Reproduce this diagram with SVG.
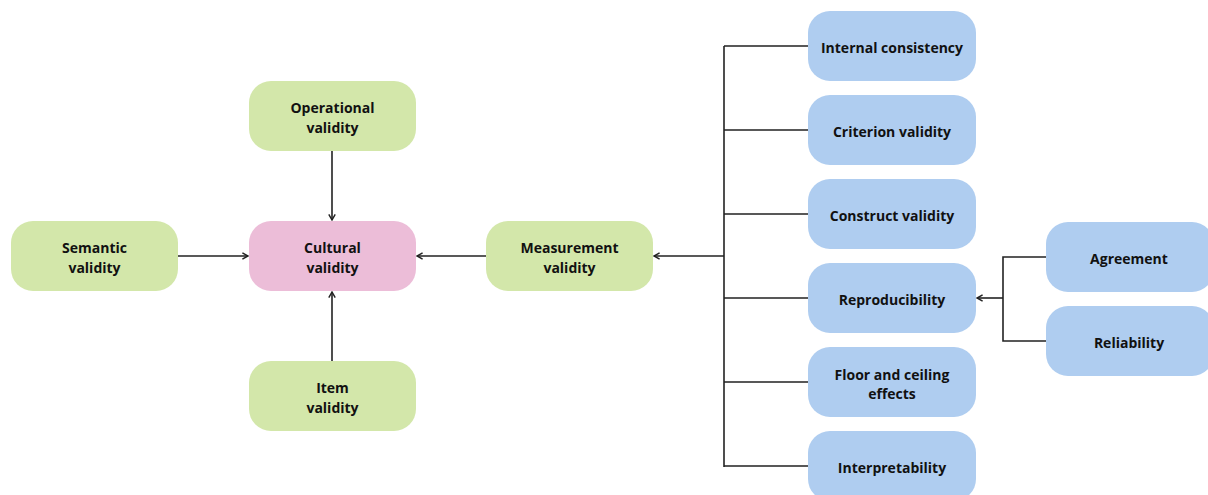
<svg xmlns="http://www.w3.org/2000/svg" width="1208" height="495" viewBox="0 0 1208 495">
<style>
  .g{fill:#d3e7aa}
  .p{fill:#ecbdd8}
  .b{fill:#afcdf0}
  text{font-family:"Open Sans","Noto Sans","Liberation Sans",sans-serif;font-weight:bold;font-size:14px;fill:#111;text-anchor:middle;dominant-baseline:central}
  .c{fill:none;stroke:#222;stroke-width:1.6}
</style>
<defs>
  <marker id="ah" viewBox="0 0 10 10" refX="9" refY="5" markerWidth="8" markerHeight="8" markerUnits="userSpaceOnUse" orient="auto">
    <path d="M2,1 L9,5 L2,9" fill="none" stroke="#222" stroke-width="1.8"/>
  </marker>
</defs>
<rect width="1208" height="495" fill="#fff"/>
<g id="connectors">
  <path class="c" d="M178,256 H248" marker-end="url(#ah)"/>
  <path class="c" d="M332,151 V220" marker-end="url(#ah)"/>
  <path class="c" d="M332,361 V292" marker-end="url(#ah)"/>
  <path class="c" d="M486,256 H417" marker-end="url(#ah)"/>
  <path class="c" d="M724,256 H654" marker-end="url(#ah)"/>
  <path class="c" d="M724,46 V467"/>
  <path class="c" d="M724,46 H808 M724,130 H808 M724,214 H808 M724,298 H808 M724,382 H808 M724,466 H808"/>
  <path class="c" d="M1003,298 H977" marker-end="url(#ah)"/>
  <path class="c" d="M1046,257 H1003 V341 H1046"/>
</g>
<g id="semantic"><rect class="g" x="11" y="221" width="167" height="70" rx="22"/><text x="94.5" y="247">Semantic</text><text x="94.5" y="267">validity</text></g>
<g id="cultural"><rect class="p" x="249" y="221" width="167" height="70" rx="22"/><text x="332.5" y="247">Cultural</text><text x="332.5" y="267">validity</text></g>
<g id="operational"><rect class="g" x="249" y="81" width="167" height="70" rx="22"/><text x="332.5" y="107">Operational</text><text x="332.5" y="127">validity</text></g>
<g id="item"><rect class="g" x="249" y="361" width="167" height="70" rx="22"/><text x="332.5" y="387">Item</text><text x="332.5" y="407">validity</text></g>
<g id="measurement"><rect class="g" x="486" y="221" width="167" height="70" rx="22"/><text x="569.5" y="247">Measurement</text><text x="569.5" y="267">validity</text></g>
<g id="internal"><rect class="b" x="808" y="11" width="168" height="70" rx="22"/><text x="892" y="47">Internal consistency</text></g>
<g id="criterion"><rect class="b" x="808" y="95" width="168" height="70" rx="22"/><text x="892" y="131">Criterion validity</text></g>
<g id="construct"><rect class="b" x="808" y="179" width="168" height="70" rx="22"/><text x="892" y="215">Construct validity</text></g>
<g id="reproducibility"><rect class="b" x="808" y="263" width="168" height="70" rx="22"/><text x="892" y="299">Reproducibility</text></g>
<g id="floor"><rect class="b" x="808" y="347" width="168" height="70" rx="22"/><text x="892" y="374">Floor and ceiling</text><text x="892" y="393">effects</text></g>
<g id="interpretability"><rect class="b" x="808" y="431" width="168" height="70" rx="22"/><text x="892" y="467">Interpretability</text></g>
<g id="agreement"><rect class="b" x="1046" y="222" width="168" height="70" rx="22"/><text x="1129" y="258">Agreement</text></g>
<g id="reliability"><rect class="b" x="1046" y="306" width="168" height="70" rx="22"/><text x="1129" y="342">Reliability</text></g>
</svg>
